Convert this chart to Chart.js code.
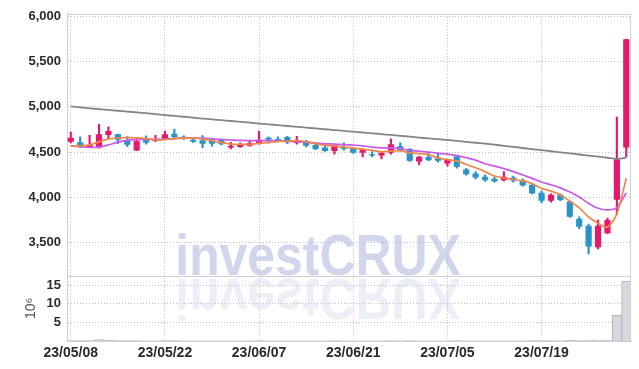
<!DOCTYPE html>
<html>
<head>
<meta charset="utf-8">
<script src="https://cdn.jsdelivr.net/npm/chart.js@4.4.1/dist/chart.umd.min.js"></script>
<style>
  html, body { margin: 0; padding: 0; background: #fff; }
  #chart { display: block; }
</style>
</head>
<body>
<canvas id="chart" width="639" height="369"></canvas>
<script>
const dates = [
  '23/05/08', '23/05/09', '23/05/10', '23/05/11', '23/05/12', '23/05/15', '23/05/16', '23/05/17', '23/05/18', '23/05/19',
  '23/05/22', '23/05/23', '23/05/24', '23/05/25', '23/05/26', '23/05/30', '23/05/31', '23/06/01', '23/06/02', '23/06/05',
  '23/06/07', '23/06/08', '23/06/09', '23/06/12', '23/06/13', '23/06/14', '23/06/15', '23/06/16', '23/06/19', '23/06/20',
  '23/06/21', '23/06/22', '23/06/23', '23/06/26', '23/06/27', '23/06/28', '23/06/29', '23/06/30', '23/07/03', '23/07/04',
  '23/07/05', '23/07/06', '23/07/07', '23/07/10', '23/07/11', '23/07/12', '23/07/13', '23/07/14', '23/07/17', '23/07/18',
  '23/07/19', '23/07/20', '23/07/21', '23/07/24', '23/07/25', '23/07/26', '23/07/27', '23/07/28', '23/07/31', '23/08/01'
];

const opens = [
  4616, 4609, 4558, 4550, 4690, 4698, 4631, 4517, 4657, 4624,
  4649, 4704, 4671, 4638, 4631, 4631, 4638, 4550, 4558, 4572,
  4602, 4660, 4646, 4668, 4602, 4624, 4580, 4550, 4514, 4550,
  4543, 4492, 4477, 4462, 4492, 4565, 4536, 4396, 4448, 4433,
  4374, 4455, 4308, 4264, 4227, 4205, 4191, 4220, 4191, 4139,
  4051, 3963, 4029, 3956, 3765, 3688, 3449, 3603, 3974, 4550
];
const highs = [
  4723, 4668, 4686, 4808, 4781, 4700, 4671, 4649, 4679, 4686,
  4734, 4756, 4680, 4657, 4682, 4646, 4646, 4609, 4602, 4631,
  4734, 4668, 4668, 4675, 4675, 4630, 4594, 4580, 4585, 4602,
  4550, 4536, 4506, 4499, 4646, 4602, 4540, 4455, 4495, 4495,
  4420, 4460, 4320, 4286, 4250, 4227, 4286, 4235, 4205, 4145,
  4073, 4040, 4040, 3960, 3787, 3706, 3751, 3773, 4888, 5750
];
const lows = [
  4602, 4550, 4550, 4545, 4649, 4594, 4561, 4515, 4587, 4616,
  4642, 4646, 4640, 4605, 4550, 4566, 4580, 4536, 4553, 4566,
  4587, 4602, 4616, 4594, 4587, 4558, 4528, 4507, 4477, 4521,
  4485, 4448, 4448, 4426, 4477, 4510, 4398, 4359, 4405, 4389,
  4345, 4323, 4245, 4205, 4176, 4168, 4183, 4169, 4125, 4040,
  3941, 3948, 3963, 3780, 3655, 3376, 3431, 3600, 3809, 4448
];
const closes = [
  4660, 4572, 4580, 4698, 4734, 4638, 4583, 4624, 4605, 4646,
  4698, 4668, 4649, 4616, 4594, 4594, 4587, 4572, 4580, 4602,
  4638, 4638, 4624, 4609, 4631, 4572, 4536, 4514, 4580, 4536,
  4492, 4528, 4462, 4492, 4587, 4514, 4404, 4448, 4411, 4404,
  4418, 4338, 4257, 4220, 4191, 4176, 4227, 4183, 4132, 4044,
  3963, 4029, 3971, 3787, 3677, 3457, 3688, 3751, 4422, 5747
];

const ma5 = [
  4565, 4569, 4580, 4613, 4646, 4657, 4660, 4658, 4650, 4635,
  4638, 4650, 4655, 4655, 4645, 4625, 4605, 4590, 4585, 4587,
  4596, 4606, 4616, 4622, 4628, 4615, 4594, 4575, 4570, 4556,
  4545, 4533, 4520, 4504, 4512, 4517, 4492, 4483, 4473, 4436,
  4417, 4404, 4364, 4327, 4285, 4236, 4214, 4199, 4182, 4152,
  4100, 4070, 4028, 3959, 3885, 3784, 3716, 3672, 3820, 4213
];
const ma10 = [
  4569, 4560, 4552, 4555, 4580, 4610, 4630, 4638, 4642, 4640,
  4645, 4650, 4655, 4656, 4655, 4648, 4640, 4635, 4630, 4628,
  4627, 4627, 4625, 4620, 4617, 4610, 4600, 4592, 4590, 4582,
  4577, 4570, 4555, 4547, 4547, 4538, 4520, 4512, 4500, 4488,
  4478, 4462, 4440, 4412, 4372, 4345, 4318, 4285, 4248, 4210,
  4170, 4140, 4105, 4060, 4005, 3935, 3880, 3862, 3888, 4052
];
const maLong = [
  5005, 4994, 4984, 4975, 4966, 4957, 4948, 4939, 4930, 4920,
  4910, 4900, 4891, 4881, 4871, 4862, 4853, 4844, 4835, 4826,
  4816, 4807, 4798, 4789, 4780, 4771, 4762, 4753, 4744, 4735,
  4726, 4717, 4708, 4699, 4690, 4680, 4671, 4661, 4652, 4643,
  4634, 4624, 4614, 4604, 4594, 4582, 4570, 4558, 4546, 4534,
  4522, 4510, 4498, 4486, 4474, 4462, 4450, 4438, 4426, 4440
];

// volume, in millions of shares
const volumes = [
  0.12, 0.08, 0.10, 0.35, 0.15, 0.10, 0.08, 0.12, 0.06, 0.05,
  0.10, 0.08, 0.05, 0.05, 0.06, 0.04, 0.05, 0.06, 0.04, 0.05,
  0.12, 0.05, 0.04, 0.05, 0.06, 0.07, 0.06, 0.05, 0.10, 0.04,
  0.05, 0.05, 0.04, 0.04, 0.10, 0.06, 0.10, 0.05, 0.05, 0.04,
  0.04, 0.08, 0.07, 0.06, 0.05, 0.05, 0.06, 0.05, 0.06, 0.10,
  0.12, 0.08, 0.06, 0.15, 0.12, 0.20, 0.25, 0.20, 6.9, 16.1
];

// tick positions
const dateTicks = [0, 10, 20, 30, 40, 50];
const priceTicks = [3500, 4000, 4500, 5000, 5500, 6000];
const volumeTicks = [5, 10, 15];

const UP = '#e3196d';
const DOWN = '#2b94c7';
const FONT = '"Liberation Sans", Arial, sans-serif';
const GRID = 'rgba(160, 165, 210, 0.75)';

const candleColors = closes.map((c, i) => c >= opens[i] ? UP : DOWN);

const bodyData = closes.map((c, i) => ({x: i, y: [opens[i], c]}));
const wickData = closes.map((c, i) => ({x: i, y: [lows[i], highs[i]]}));
const volData = volumes.map((v, i) => ({x: i, y: v}));
const lineData = arr => arr.map((v, i) => ({x: i, y: v}));
const setTicks = list => scale => { scale.ticks = list.map(v => ({value: v})); };

const watermark = {
  id: 'watermark',
  beforeDatasetsDraw(chart) {
    const {ctx, chartArea: a} = chart;
    const base = chart.scales.y.bottom - 1;
    const text = 'investCRUX';
    ctx.save();
    ctx.font = 'bold 57px ' + FONT;
    const w = ctx.measureText(text).width;
    const target = a.width * 0.506;
    ctx.translate(a.left + a.width * 0.192, base);
    ctx.scale(target / w, 1);
    ctx.textBaseline = 'alphabetic';
    ctx.fillStyle = 'rgba(185, 193, 226, 0.66)';
    ctx.fillText(text, 0, 0);
    ctx.scale(1, -1);
    ctx.fillStyle = 'rgba(185, 193, 226, 0.26)';
    ctx.fillText(text, 0, -4);
    ctx.restore();
  }
};

const frame = {
  id: 'frame',
  afterDatasetsDraw(chart) {
    const {ctx, chartArea: a} = chart;
    const yb = Math.round(chart.scales.y.bottom) + 0.5;
    ctx.save();
    ctx.strokeStyle = '#cfcfd8';
    ctx.lineWidth = 1;
    ctx.beginPath();
    ctx.moveTo(a.left, Math.round(a.top) + 0.5);
    ctx.lineTo(a.right, Math.round(a.top) + 0.5);
    ctx.moveTo(Math.round(a.right) - 0.5, a.top);
    ctx.lineTo(Math.round(a.right) - 0.5, a.bottom);
    ctx.moveTo(a.left, yb);
    ctx.lineTo(a.right, yb);
    ctx.stroke();
    ctx.restore();
  }
};

const ctx = document.getElementById('chart').getContext('2d');
new Chart(ctx, {
  type: 'bar',
  data: {
    datasets: [
      {
        type: 'line', data: lineData(ma5), yAxisID: 'y', order: 0,
        borderColor: '#f0874a', borderWidth: 1.7, pointRadius: 0, tension: 0.3
      },
      {
        type: 'line', data: lineData(ma10), yAxisID: 'y', order: 0,
        borderColor: '#c95be6', borderWidth: 1.7, pointRadius: 0, tension: 0.3
      },
      {
        type: 'line', data: lineData(maLong), yAxisID: 'y', order: 0,
        borderColor: '#858585', borderWidth: 1.8, pointRadius: 0, tension: 0.3
      },
      {
        data: bodyData, yAxisID: 'y', order: 1, grouped: false,
        backgroundColor: candleColors, borderWidth: 0,
        barPercentage: 0.66, categoryPercentage: 1
      },
      {
        data: wickData, yAxisID: 'y', order: 2, grouped: false,
        backgroundColor: candleColors, borderWidth: 0,
        barThickness: 1.5
      },
      {
        data: volData, yAxisID: 'yv', order: 3, grouped: false,
        backgroundColor: '#d7d7de', borderColor: '#b2b2bb', borderWidth: 1,
        barPercentage: 1, categoryPercentage: 1
      }
    ]
  },
  options: {
    responsive: false,
    animation: false,
    devicePixelRatio: 1,
    layout: { padding: { top: 12, right: 8, left: 0, bottom: 0 } },
    plugins: {
      legend: { display: false },
      tooltip: { enabled: false }
    },
    scales: {
      x: {
        type: 'linear',
        offset: false,
        min: -0.4,
        max: 59.5,
        grid: { offset: false, color: GRID, drawTicks: false },
        border: { color: '#cfcfd8', dash: [1, 2] },
        afterBuildTicks: setTicks(dateTicks),
        ticks: {
          padding: 4,
          color: '#2a2a2a',
          font: { family: FONT, size: 14, weight: 'bold' },
          maxRotation: 0,
          autoSkip: false,
          callback: v => dates[v] || ''
        },
        afterFit: s => { s.height = 28; }
      },
      yv: {
        position: 'left',
        stack: 'panes',
        stackWeight: 1,
        min: 0,
        max: 17.6,
        grid: { color: GRID, drawTicks: false },
        border: { color: '#cfcfd8', dash: [1, 2] },
        afterBuildTicks: setTicks(volumeTicks),
        ticks: {
          padding: 6,
          autoSkip: false,
          color: '#2a2a2a',
          font: { family: FONT, size: 13, weight: 'bold' },
          callback: v => v
        },
        title: {
          display: true,
          text: '10⁶',
          color: '#555',
          padding: { top: 23, bottom: 0 },
          font: { family: FONT, size: 14 }
        },
        afterFit: s => { s.width = 67; }
      },
      y: {
        position: 'left',
        stack: 'panes',
        stackWeight: 4,
        min: 3137,
        max: 6028,
        grid: { color: GRID, drawTicks: false },
        border: { color: '#cfcfd8', dash: [1, 2] },
        afterBuildTicks: setTicks(priceTicks),
        ticks: {
          padding: 6,
          autoSkip: false,
          color: '#2a2a2a',
          font: { family: FONT, size: 13, weight: 'bold' },
          callback: v => v.toLocaleString('en-US')
        },
        afterFit: s => { s.width = 67; }
      }
    }
  },
  plugins: [watermark, frame]
});
</script>
</body>
</html>
